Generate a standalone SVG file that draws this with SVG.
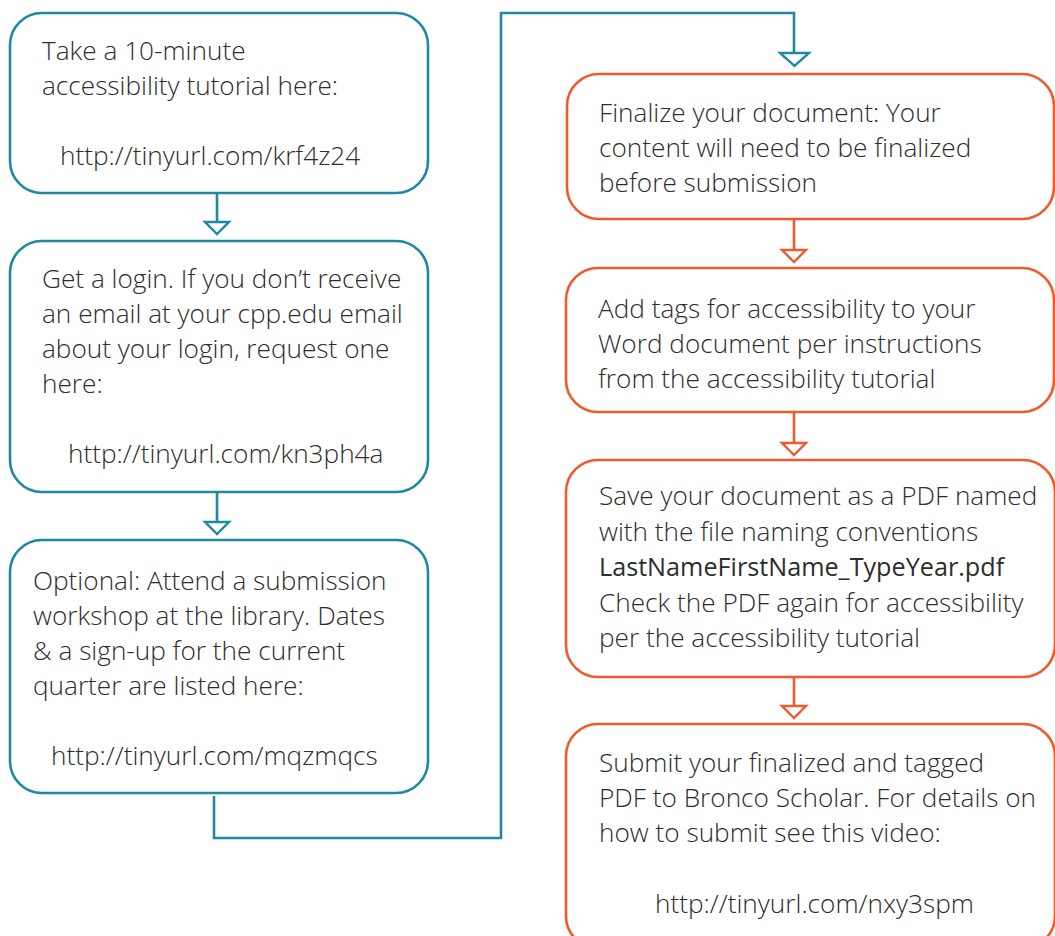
<svg xmlns="http://www.w3.org/2000/svg" width="1055" height="936" viewBox="0 0 1055 936">
<style>
.bt{fill:#fff;stroke:#1E89A3;stroke-width:2.6}
.bo{fill:#fff;stroke:#F15A2B;stroke-width:2.6}
.lt{fill:none;stroke:#1E89A3;stroke-width:2.6}
.lo{fill:none;stroke:#F15A2B;stroke-width:2.6}
.at{fill:#fff;stroke:#1E89A3;stroke-width:2.4;stroke-linejoin:miter}
.ao{fill:#fff;stroke:#F15A2B;stroke-width:2.4;stroke-linejoin:miter}
text{font-family:"Open Sans","Noto Sans",sans-serif;font-weight:300;font-size:26.2px;fill:#2d2d2d}
.b{font-weight:400;font-size:25.2px}
</style>
<rect width="1055" height="936" fill="#fff"/>
<g id="connectors">
<path class="lt" d="M217,193 V222"/>
<polygon class="at" points="205,222 229,222 217,234"/>
<path class="lt" d="M217,492 V522"/>
<polygon class="at" points="205,522 229,522 217,534"/>
<path class="lt" d="M214,796 V838 H501 V13 H794 V52"/>
<polygon class="at" points="780,53 809,53 794.5,66"/>
<path class="lo" d="M794,220 V250"/>
<polygon class="ao" points="782,250 806,250 794,262"/>
<path class="lo" d="M794,412 V443"/>
<polygon class="ao" points="782,443 806,443 794,455"/>
<path class="lo" d="M794,677 V707"/>
<polygon class="ao" points="782,706 806,706 794,718"/>
</g>
<g id="node1">
<rect class="bt" x="10" y="13" width="418" height="180" rx="32"/>
<text x="42" y="60">Take a 10-minute</text>
<text x="42" y="95">accessibility tutorial here:</text>
<text x="60" y="165">http://tinyurl.com/krf4z24</text>
</g>
<g id="node2">
<rect class="bt" x="10" y="241" width="418" height="251" rx="32"/>
<text x="42" y="288">Get a login. If you don’t receive</text>
<text x="42" y="323">an email at your cpp.edu email</text>
<text x="42" y="358">about your login, request one</text>
<text x="42" y="393">here:</text>
<text x="68" y="463">http://tinyurl.com/kn3ph4a</text>
</g>
<g id="node3">
<rect class="bt" x="10" y="540" width="418" height="253" rx="32"/>
<text x="33" y="590">Optional: Attend a submission</text>
<text x="33" y="625">workshop at the library. Dates</text>
<text x="33" y="660">&amp; a sign-up for the current</text>
<text x="33" y="695">quarter are listed here:</text>
<text x="51" y="765">http://tinyurl.com/mqzmqcs</text>
</g>
<g id="node4">
<rect class="bo" x="567" y="74" width="487" height="145" rx="32"/>
<text x="599" y="122">Finalize your document: Your</text>
<text x="599" y="157">content will need to be finalized</text>
<text x="599" y="192">before submission</text>
</g>
<g id="node5">
<rect class="bo" x="566" y="268" width="488" height="144" rx="32"/>
<text x="598" y="318">Add tags for accessibility to your</text>
<text x="598" y="353">Word document per instructions</text>
<text x="598" y="388">from the accessibility tutorial</text>
</g>
<g id="node6">
<rect class="bo" x="566" y="460" width="489" height="217" rx="32"/>
<text x="599" y="505">Save your document as a PDF named</text>
<text x="599" y="540.5">with the file naming conventions</text>
<text class="b" x="599" y="576">LastNameFirstName_TypeYear.pdf</text>
<text x="599" y="611.5">Check the PDF again for accessibility</text>
<text x="599" y="647">per the accessibility tutorial</text>
</g>
<g id="node7">
<rect class="bo" x="566" y="724" width="489" height="224" rx="32"/>
<text x="599" y="772">Submit your finalized and tagged</text>
<text x="599" y="807">PDF to Bronco Scholar. For details on</text>
<text x="599" y="842">how to submit see this video:</text>
<text x="655" y="913">http://tinyurl.com/nxy3spm</text>
</g>
</svg>
